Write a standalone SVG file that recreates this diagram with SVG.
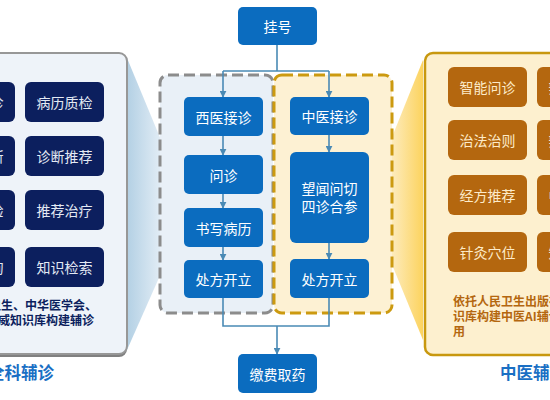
<svg xmlns="http://www.w3.org/2000/svg" width="550" height="400" viewBox="0 0 550 400">
<defs>
<linearGradient id="gl" x1="0" y1="0" x2="1" y2="0">
<stop offset="0" stop-color="#b3d0e4"/><stop offset="1" stop-color="#e9f1f8"/>
</linearGradient>
<linearGradient id="gr" x1="1" y1="0" x2="0" y2="0">
<stop offset="0" stop-color="#fcd35e"/><stop offset="1" stop-color="#fdf0cf"/>
</linearGradient>
<marker id="ah" viewBox="0 0 10 10" refX="9" refY="5" markerWidth="7" markerHeight="7" markerUnits="userSpaceOnUse" orient="auto">
<path d="M0,0 L10,5 L0,10 z" fill="#4a8ab5"/>
</marker>
</defs>
<style>
.t{font-family:"Noto Sans CJK SC","Liberation Sans",sans-serif;font-size:14px;text-anchor:middle;dominant-baseline:central}
.bw{fill:#0b6cbf}
.tw{fill:#ffffff}
.nv{fill:#0c1f5e}
.tn{fill:#e4eaf4}
.br{fill:#b4670f}
.tb{fill:#fdebc9}
.c{fill:none;stroke:#4a8ab5;stroke-width:1.6}
.note{font-family:"Noto Sans CJK SC","Liberation Sans",sans-serif;font-size:12px;font-weight:bold}
.lab{font-family:"Noto Sans CJK SC","Liberation Sans",sans-serif;font-size:16.5px;font-weight:bold;fill:#1a6fc4}
</style>
<rect width="550" height="400" fill="#ffffff"/>

<!-- wedges -->
<polygon points="127,58 166,152 166,262 127,350" fill="url(#gl)"/>
<polygon points="423,60 386,152 386,250 423,340" fill="url(#gr)"/>

<!-- left panel -->
<g id="left-panel">
<rect x="-20" y="55" width="147" height="302" rx="8" fill="#808080"/>
<rect x="-20" y="53" width="147" height="301" rx="8" fill="#eef3f9" stroke="#979797" stroke-width="2"/>
<rect class="nv" x="-64" y="82" width="79" height="40" rx="6"/><text class="t tn" x="-24.5" y="102">智能问诊</text>
<rect class="nv" x="25" y="82" width="79" height="40" rx="6"/><text class="t tn" x="64.5" y="102">病历质检</text>
<rect class="nv" x="-64" y="136" width="79" height="40" rx="6"/><text class="t tn" x="-24.5" y="156">辅助诊断</text>
<rect class="nv" x="25" y="136" width="79" height="40" rx="6"/><text class="t tn" x="64.5" y="156">诊断推荐</text>
<rect class="nv" x="-64" y="190" width="79" height="40" rx="6"/><text class="t tn" x="-24.5" y="210">检查检验</text>
<rect class="nv" x="25" y="190" width="79" height="40" rx="6"/><text class="t tn" x="64.5" y="210">推荐治疗</text>
<rect class="nv" x="-64" y="247" width="79" height="40" rx="6"/><text class="t tn" x="-24.5" y="267">用药咨询</text>
<rect class="nv" x="25" y="247" width="79" height="40" rx="6"/><text class="t tn" x="64.5" y="267">知识检索</text>
<text class="note" fill="#0c1f5e" text-anchor="end" x="97" y="310">依托人民卫生、中华医学会、</text>
<text class="note" fill="#0c1f5e" text-anchor="end" x="94" y="325">等权威知识库构建辅诊</text>
</g>
<text class="lab" text-anchor="end" x="54" y="379">西医全科辅诊</text>

<!-- right panel -->
<g id="right-panel">
<rect x="425" y="53" width="150" height="302" rx="8" fill="#fdf0cf" stroke="#c8980f" stroke-width="2.5"/>
<rect class="br" x="448" y="67" width="79" height="40" rx="6"/><text class="t tb" x="487.5" y="87">智能问诊</text>
<rect class="br" x="537" y="67" width="79" height="40" rx="6"/><text class="t tb" x="576.5" y="87">辨证论治</text>
<rect class="br" x="448" y="120" width="79" height="40" rx="6"/><text class="t tb" x="487.5" y="140">治法治则</text>
<rect class="br" x="537" y="120" width="79" height="40" rx="6"/><text class="t tb" x="576.5" y="140">辨病辨证</text>
<rect class="br" x="448" y="175" width="79" height="40" rx="6"/><text class="t tb" x="487.5" y="195">经方推荐</text>
<rect class="br" x="537" y="175" width="79" height="40" rx="6"/><text class="t tb" x="576.5" y="195">中药推荐</text>
<rect class="br" x="448" y="232" width="79" height="40" rx="6"/><text class="t tb" x="487.5" y="252">针灸穴位</text>
<rect class="br" x="537" y="232" width="79" height="40" rx="6"/><text class="t tb" x="576.5" y="252">知识检索</text>
<text class="note" fill="#b4670f" x="453" y="306">依托人民卫生出版社等权威知</text>
<text class="note" fill="#b4670f" x="453" y="321">识库构建中医AI辅诊应</text>
<text class="note" fill="#b4670f" x="453" y="336">用</text>
</g>
<text class="lab" x="500" y="379">中医辅诊</text>

<!-- dashed groups -->
<rect x="160" y="75" width="113" height="238" rx="8" fill="#e9f0f7" stroke="#8c8c8c" stroke-width="3" stroke-dasharray="11,5"/>
<rect x="274" y="75" width="118" height="238" rx="8" fill="#fdf1d3" stroke="#cc9a10" stroke-width="3" stroke-dasharray="11,5"/>

<!-- connectors -->
<g id="connectors">
<path class="c" d="M277,45 V71 M223,71 H329"/>
<path class="c" d="M223,71 V97" marker-end="url(#ah)"/>
<path class="c" d="M329,71 V97" marker-end="url(#ah)"/>
<path class="c" d="M223,136 V155" marker-end="url(#ah)"/>
<path class="c" d="M223,194 V208" marker-end="url(#ah)"/>
<path class="c" d="M223,247 V260" marker-end="url(#ah)"/>
<path class="c" d="M329,135 V152" marker-end="url(#ah)"/>
<path class="c" d="M329,243 V259" marker-end="url(#ah)"/>
<path class="c" d="M223,298 V326 H329 V298"/>
<path class="c" d="M277,326 V354" marker-end="url(#ah)"/>
</g>

<!-- flow nodes -->
<g id="n-guahao"><rect class="bw" x="238" y="7" width="79" height="38" rx="5"/><text class="t tw" x="277.5" y="26">挂号</text></g>
<g id="n-xiyi"><rect class="bw" x="184" y="97" width="79" height="39" rx="5"/><text class="t tw" x="223.5" y="116.5">西医接诊</text></g>
<g id="n-wenzhen"><rect class="bw" x="184" y="155" width="79" height="39" rx="5"/><text class="t tw" x="223.5" y="174.5">问诊</text></g>
<g id="n-shuxie"><rect class="bw" x="184" y="208" width="79" height="39" rx="5"/><text class="t tw" x="223.5" y="227.5">书写病历</text></g>
<g id="n-chufang1"><rect class="bw" x="184" y="260" width="79" height="38" rx="5"/><text class="t tw" x="223.5" y="279">处方开立</text></g>
<g id="n-zhongyi"><rect class="bw" x="290" y="97" width="79" height="38" rx="5"/><text class="t tw" x="329.5" y="116">中医接诊</text></g>
<g id="n-sizhen"><rect class="bw" x="290" y="152" width="79" height="91" rx="6"/><text class="t tw" x="329.5" y="188">望闻问切</text><text class="t tw" x="329.5" y="206">四诊合参</text></g>
<g id="n-chufang2"><rect class="bw" x="290" y="259" width="79" height="39" rx="5"/><text class="t tw" x="329.5" y="278.5">处方开立</text></g>
<g id="n-jiaofei"><rect class="bw" x="238" y="354" width="79" height="39" rx="5"/><text class="t tw" x="277.5" y="373.5">缴费取药</text></g>
</svg>
